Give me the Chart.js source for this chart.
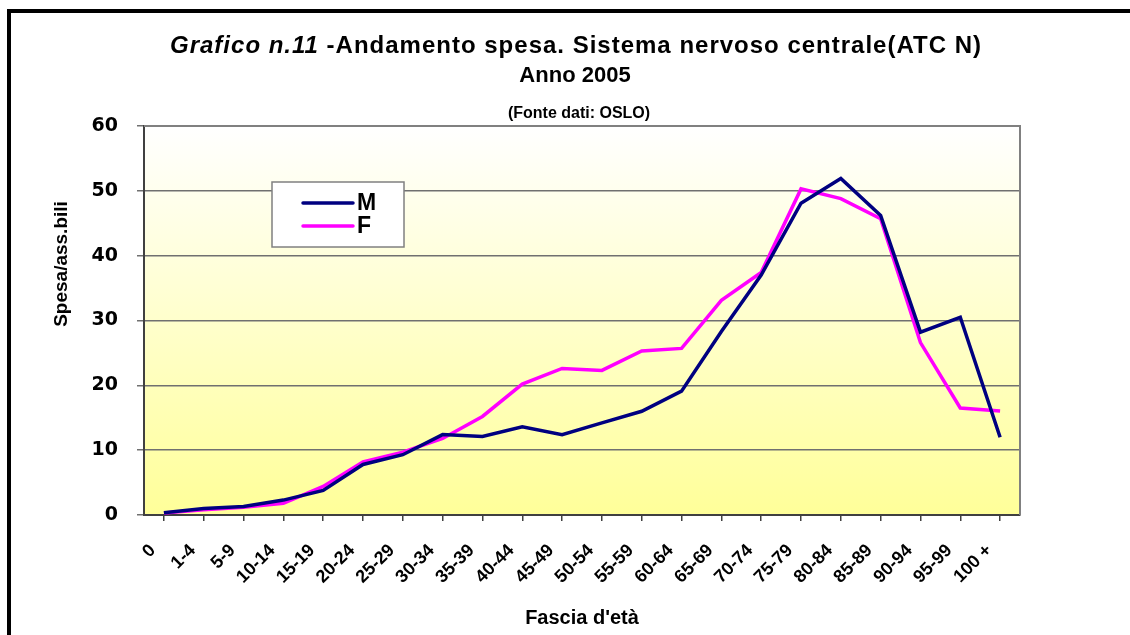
<!DOCTYPE html>
<html>
<head>
<meta charset="utf-8">
<title>Grafico n.11 - Andamento spesa ATC N</title>
<script src="https://cdn.jsdelivr.net/npm/chart.js@4/dist/chart.umd.min.js"></script>
<style>
  html, body { margin: 0; padding: 0; background: #FFFFFF; }
  #wrap { width: 1130px; height: 635px; position: relative; }
</style>
</head>
<body>
<div id="wrap"><canvas id="chartSpesa" width="1130" height="635"></canvas></div>
<script>
// age bands and spend per assisted person
const ageBands = ['0', '1-4', '5-9', '10-14', '15-19', '20-24', '25-29', '30-34', '35-39', '40-44',
  '45-49', '50-54', '55-59', '60-64', '65-69', '70-74', '75-79', '80-84', '85-89', '90-94', '95-99', '100 +'];
const maleSpend = [0.35, 1.0, 1.3, 2.3, 3.8, 7.8, 9.3, 12.4, 12.1, 13.6, 12.4,
  14.2, 16.0, 19.1, 28.3, 37.0, 48.1, 51.9, 46.2, 28.2, 30.5, 12.0];
const femaleSpend = [0.3, 0.8, 1.2, 1.8, 4.4, 8.2, 9.7, 11.8, 15.2, 20.2, 22.6,
  22.3, 25.3, 25.7, 33.1, 37.4, 50.3, 48.8, 45.7, 26.6, 16.5, 16.05];
const yTicks = [0, 10, 20, 30, 40, 50, 60];

const titleItalic = 'Grafico n.11';
const titleRest = ' -Andamento spesa. Sistema nervoso centrale(ATC N)';
const titleLine2 = 'Anno 2005';
const titleLine3 = '(Fonte dati: OSLO)';
const yTitle = 'Spesa/ass.bili';

const SANS = '"Liberation Sans", Arial, sans-serif';

// background, frame, titles and the boxed legend
const decorations = {
  id: 'decorations',
  beforeDraw(chart) {
    const { ctx, chartArea: a } = chart;
    ctx.save();
    const g = ctx.createLinearGradient(0, a.top, 0, a.bottom);
    g.addColorStop(0, '#FFFFFF');
    g.addColorStop(1, '#FFFF99');
    ctx.fillStyle = g;
    ctx.fillRect(a.left, a.top, a.right - a.left, a.bottom - a.top);
    ctx.restore();
  },
  afterDraw(chart) {
    const { ctx, chartArea: a } = chart;
    ctx.save();

    // plot border (top / right)
    ctx.strokeStyle = '#808080';
    ctx.lineWidth = 2;
    ctx.beginPath();
    ctx.moveTo(a.left, a.top);
    ctx.lineTo(a.right, a.top);
    ctx.lineTo(a.right, a.bottom);
    ctx.stroke();

    // outer black frame
    ctx.fillStyle = '#000000';
    ctx.fillRect(7, 9, 1130, 4);
    ctx.fillRect(7, 9, 4, 640);

    // title line 1: italic part + bold part
    ctx.fillStyle = '#000000';
    ctx.textBaseline = 'middle';
    ctx.letterSpacing = '1px';
    const f1 = 'italic bold 24px ' + SANS;
    const f2 = 'bold 24px ' + SANS;
    ctx.font = f1;
    const w1 = ctx.measureText(titleItalic).width;
    ctx.font = f2;
    const w2 = ctx.measureText(titleRest).width;
    let x = 576 - (w1 + w2) / 2;
    ctx.textAlign = 'left';
    ctx.font = f1;
    ctx.fillText(titleItalic, x, 46);
    ctx.font = f2;
    ctx.fillText(titleRest, x + w1, 46);

    ctx.letterSpacing = '0px';
    ctx.textAlign = 'center';
    ctx.font = 'bold 22px ' + SANS;
    ctx.fillText(titleLine2, 575, 76);
    ctx.font = 'bold 16px ' + SANS;
    ctx.fillText(titleLine3, 579, 114);

    // y axis title
    ctx.save();
    ctx.translate(62, 264);
    ctx.rotate(-Math.PI / 2);
    ctx.font = 'bold 19px ' + SANS;
    ctx.fillText(yTitle, 0, 0);
    ctx.restore();

    // legend box
    ctx.fillStyle = '#FFFFFF';
    ctx.fillRect(272, 182, 132, 65);
    ctx.strokeStyle = '#808080';
    ctx.lineWidth = 1.5;
    ctx.strokeRect(272, 182, 132, 65);
    chart.data.datasets.forEach(function(ds, i) {
      const y = 203 + i * 23;
      ctx.strokeStyle = ds.borderColor;
      ctx.lineWidth = 3.5;
      ctx.lineCap = 'round';
      ctx.beginPath();
      ctx.moveTo(303, y);
      ctx.lineTo(353, y);
      ctx.stroke();
      ctx.fillStyle = '#000000';
      ctx.textAlign = 'left';
      ctx.font = 'bold 23px ' + SANS;
      ctx.fillText(ds.label, 357, y + 1);
    });

    ctx.restore();
  }
};

new Chart(document.getElementById('chartSpesa'), {
  type: 'line',
  data: {
    labels: ageBands,
    datasets: [
      {
        label: 'M',
        data: maleSpend,
        borderColor: '#000080',
        borderWidth: 3.5,
        pointRadius: 0,
        tension: 0,
        fill: false
      },
      {
        label: 'F',
        data: femaleSpend,
        borderColor: '#FF00FF',
        borderWidth: 3.5,
        pointRadius: 0,
        tension: 0,
        fill: false
      }
    ]
  },
  options: {
    responsive: false,
    animation: false,
    layout: { padding: { top: 126, right: 110, left: 0, bottom: 0 } },
    plugins: {
      legend: { display: false },
      title: { display: false },
      tooltip: { enabled: false }
    },
    scales: {
      x: {
        offset: true,
        afterFit: function(scale) { scale.height = 120; },
        grid: { drawOnChartArea: false, color: '#404040', lineWidth: 1.5, tickLength: 6 },
        border: { color: '#404040', width: 2 },
        ticks: {
          color: '#000000',
          autoSkip: false,
          maxRotation: 45,
          minRotation: 45,
          padding: 19,
          labelOffset: -11,
          font: { family: SANS, size: 18, weight: 'bold' }
        },
        title: {
          display: true,
          text: "Fascia d'età",
          color: '#000000',
          padding: { top: 4, bottom: 5 },
          font: { family: SANS, size: 20, weight: 'bold' }
        }
      },
      y: {
        min: 0,
        max: 60,
        afterFit: function(scale) { scale.width = 144; },
        afterBuildTicks: function(scale) {
          scale.ticks = yTicks.map(function(v) { return { value: v }; });
        },
        grid: { color: '#707070', lineWidth: 1.5, tickLength: 7 },
        border: { color: '#404040', width: 2 },
        ticks: {
          color: '#000000',
          padding: 19,
          font: { family: '"DejaVu Sans", sans-serif', size: 19, weight: 'bold' }
        }
      }
    }
  },
  plugins: [decorations]
});
</script>
</body>
</html>
